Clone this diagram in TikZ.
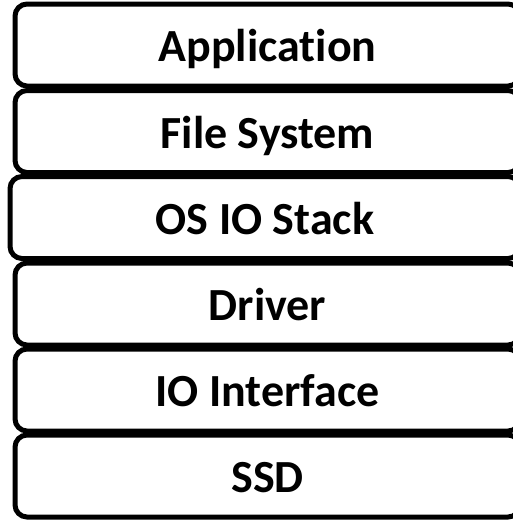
\documentclass[tikz,border=0pt]{standalone}
\usepackage{fontspec}
\setmainfont{Carlito}[Ligatures=NoCommon]
\begin{document}
\begin{tikzpicture}[x=1pt,y=-1pt,
  layer/.style={draw=black, line width=5pt, rounded corners=12pt, fill=white,
    minimum height=82pt, inner sep=0pt, text height=33pt, text depth=0pt,
    font=\fontsize{46}{54}\selectfont\bfseries}]
\useasboundingbox (0,0) rectangle (513,520);
\clip (0,0) rectangle (513,520);
\node[layer, minimum width=505pt] (app) at (267.5,45) {Application};
\node[layer, minimum width=505pt] (fs)  at (267.5,131.5) {File System};
\node[layer, minimum width=510pt] (os)  at (265,217.5) {OS IO Stack};
\node[layer, minimum width=505pt] (drv) at (267.5,304) {Driver};
\node[layer, minimum width=505pt] (ioi) at (267.5,390) {IO Interface};
\node[layer, minimum width=505pt] (ssd) at (267.5,476) {SSD};
\end{tikzpicture}
\end{document}
